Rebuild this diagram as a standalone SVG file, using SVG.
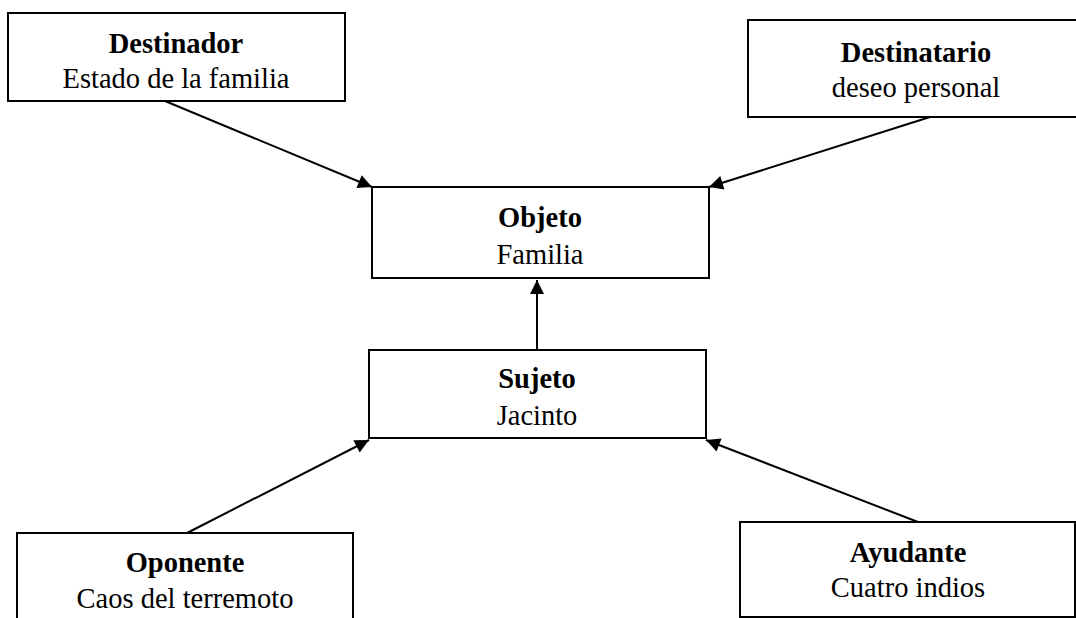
<svg xmlns="http://www.w3.org/2000/svg" width="1076" height="618" viewBox="0 0 1076 618">
<style>
.box{fill:#fff;stroke:#000;stroke-width:2}
.t{font-family:"Liberation Serif","Times New Roman",serif;font-size:28.5px;fill:#000;text-anchor:middle}
.b{font-weight:bold}
.c{stroke:#000;stroke-width:2;fill:none;marker-end:url(#ah)}
</style>
<defs>
<marker id="ah" viewBox="0 0 10 10" refX="10" refY="5" markerWidth="8" markerHeight="7" markerUnits="strokeWidth" orient="auto">
<path d="M0,0 L10,5 L0,10 z" fill="#000"/>
</marker>
</defs>
<rect width="1076" height="618" fill="#fff"/>
<g id="connectors">
<line class="c" x1="165" y1="101" x2="372" y2="187"/>
<line class="c" x1="930" y1="117" x2="709" y2="187"/>
<line class="c" x1="537" y1="350" x2="537" y2="280"/>
<line class="c" x1="187" y1="533" x2="369" y2="440"/>
<line class="c" x1="918" y1="522" x2="706" y2="440"/>
</g>
<g id="destinador">
<rect class="box" x="8" y="13" width="337" height="88"/>
<text class="t b" transform="translate(176,53) scale(1,1.07)">Destinador</text>
<text class="t" transform="translate(176,88) scale(1,1.07)">Estado de la familia</text>
</g>
<g id="destinatario">
<rect class="box" x="748" y="20" width="340" height="97"/>
<text class="t b" transform="translate(916,62) scale(1,1.07)">Destinatario</text>
<text class="t" transform="translate(916,97) scale(1,1.07)">deseo personal</text>
</g>
<g id="objeto">
<rect class="box" x="372" y="187" width="337" height="91"/>
<text class="t b" transform="translate(540,227) scale(1,1.07)">Objeto</text>
<text class="t" transform="translate(540,264) scale(1,1.07)">Familia</text>
</g>
<g id="sujeto">
<rect class="box" x="369" y="350" width="337" height="88"/>
<text class="t b" transform="translate(537,388) scale(1,1.07)">Sujeto</text>
<text class="t" transform="translate(537,425) scale(1,1.07)">Jacinto</text>
</g>
<g id="oponente">
<rect class="box" x="17" y="533" width="336" height="100"/>
<text class="t b" transform="translate(185,572) scale(1,1.07)">Oponente</text>
<text class="t" transform="translate(185,608) scale(1,1.07)">Caos del terremoto</text>
</g>
<g id="ayudante">
<rect class="box" x="740" y="522" width="335" height="95"/>
<text class="t b" transform="translate(908,562) scale(1,1.07)">Ayudante</text>
<text class="t" transform="translate(908,597) scale(1,1.07)">Cuatro indios</text>
</g>
</svg>
